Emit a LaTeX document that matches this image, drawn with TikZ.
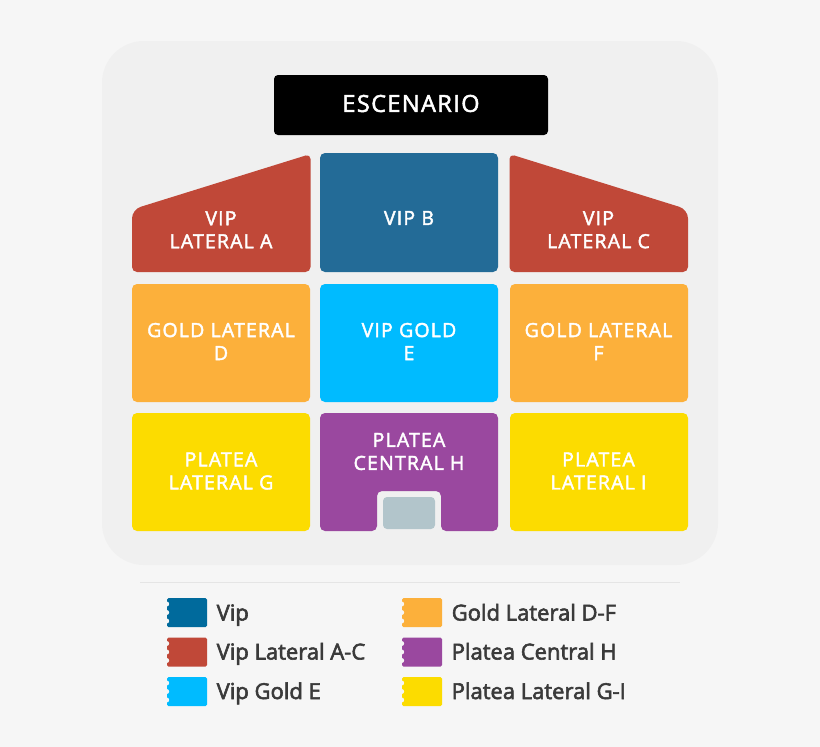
\documentclass[tikz,border=0pt]{standalone}
\usepackage{fontspec}
\setmainfont[FakeBold=2.6]{Open Sans}
\newfontfamily\labelfont[LetterSpace=6,FakeBold=2.2]{Open Sans}
\definecolor{pagebg}{HTML}{F6F6F6}
\definecolor{panel}{HTML}{F0F0F0}
\definecolor{vipred}{HTML}{C04838}
\definecolor{vipblue}{HTML}{236B97}
\definecolor{legblue}{HTML}{006A9C}
\definecolor{cyanb}{HTML}{00BBFF}
\definecolor{goldo}{HTML}{FCB03B}
\definecolor{purp}{HTML}{9A489F}
\definecolor{yel}{HTML}{FCDC00}
\definecolor{boxgrey}{HTML}{B2C5CB}
\definecolor{ltext}{HTML}{3A3A3A}
\tikzset{
 x=1pt,y=-1pt,
 seat/.style={rounded corners=5pt,minimum width=178pt,minimum height=118pt,inner sep=0pt},
 seatlabel/.style={text=white,align=center,inner sep=0pt,font=\fontsize{19.5}{23}\selectfont\labelfont},
 legtext/.style={text=ltext,anchor=base west,inner sep=0pt,font=\fontsize{22}{26}\selectfont},
 ticketbody/.style={rounded corners=1.5pt},
}
\newcommand{\ticket}[3]{%
 \fill[#3,ticketbody] (#1,#2) rectangle ++(40,29);
 \foreach \k in {6,14.5,23} \fill[pagebg] (#1-0.3,#2+\k) circle (2.5);}
\begin{document}
\begin{tikzpicture}
\useasboundingbox (0,0) rectangle (820,747);
\fill[pagebg] (0,0) rectangle (820,747);
\fill[panel,rounded corners=42pt] (102,41) rectangle (718,565);
\node[fill=black,rounded corners=4pt,minimum width=274pt,minimum height=60pt,inner sep=0pt] (escenario) at (411,105) {};
\node[text=white,inner sep=0pt,font=\fontsize{23.5}{28}\selectfont\labelfont] (esclabel) at (411,103.5) {ESCENARIO};
% side wedges
\fill[vipred,rounded corners=6pt] (132,272) [rounded corners=9pt] -- (132,209.5) [rounded corners=5pt] -- (310.5,154) -- (310.5,272) -- cycle;
\fill[vipred,rounded corners=6pt] (688,272) [rounded corners=9pt] -- (688,209.5) [rounded corners=5pt] -- (509.5,154) -- (509.5,272) -- cycle;
\node[seatlabel] (vipa) at (221,229.8) {VIP\\LATERAL A};
\node[seatlabel] (vipc) at (598.5,229.8) {VIP\\LATERAL C};
\node[seat,fill=vipblue,minimum height=119pt] (vipb) at (409,212.5) {};
\node[seatlabel] (vipblabel) at (409,218) {VIP B};
\node[seat,fill=goldo] (goldd) at (221,343) {};
\node[seat,fill=cyanb] (vipe) at (409,343) {};
\node[seat,fill=goldo] (goldf) at (599,343) {};
\node[seat,fill=yel] (plateag) at (221,472) {};
\node[seat,fill=yel] (plateai) at (599,472) {};
\node[seatlabel] (golddlabel) at (221,341.5) {GOLD LATERAL\\D};
\node[seatlabel] (vipelabel) at (409,341.5) {VIP GOLD\\E};
\node[seatlabel] (goldflabel) at (598.5,341.5) {GOLD LATERAL\\F};
\node[seatlabel] (plateaglabel) at (221,471) {PLATEA\\LATERAL G};
\node[seatlabel] (plateailabel) at (598.5,471) {PLATEA\\LATERAL I};
% central H with notch
\fill[purp,rounded corners=5pt] (320,413) -- (498,413) -- (498,531) -- (441,531) -- (441,491) -- (377,491) -- (377,531) -- (320,531) -- cycle;
\node[seatlabel] (plateah) at (409,451.5) {PLATEA\\CENTRAL H};
\node[fill=boxgrey,rounded corners=4pt,minimum width=52pt,minimum height=32pt,inner sep=0pt] (box) at (409,513) {};
% legend
\draw[draw=black!10,line width=.8pt] (140,582.5) -- (680,582.5);
\ticket{167}{598}{legblue}
\ticket{167}{637.5}{vipred}
\ticket{167}{677}{cyanb}
\ticket{402}{598}{goldo}
\ticket{402}{637.5}{purp}
\ticket{402}{677}{yel}
\node[legtext] (l1) at (216.5,620.5) {Vip};
\node[legtext] (l2) at (216.5,659.5) {Vip Lateral A-C};
\node[legtext] (l3) at (216.5,699) {Vip Gold E};
\node[legtext] (l4) at (451.5,620.5) {Gold Lateral D-F};
\node[legtext] (l5) at (451.5,659.5) {Platea Central H};
\node[legtext] (l6) at (451.5,699) {Platea Lateral G-I};
\end{tikzpicture}
\end{document}
